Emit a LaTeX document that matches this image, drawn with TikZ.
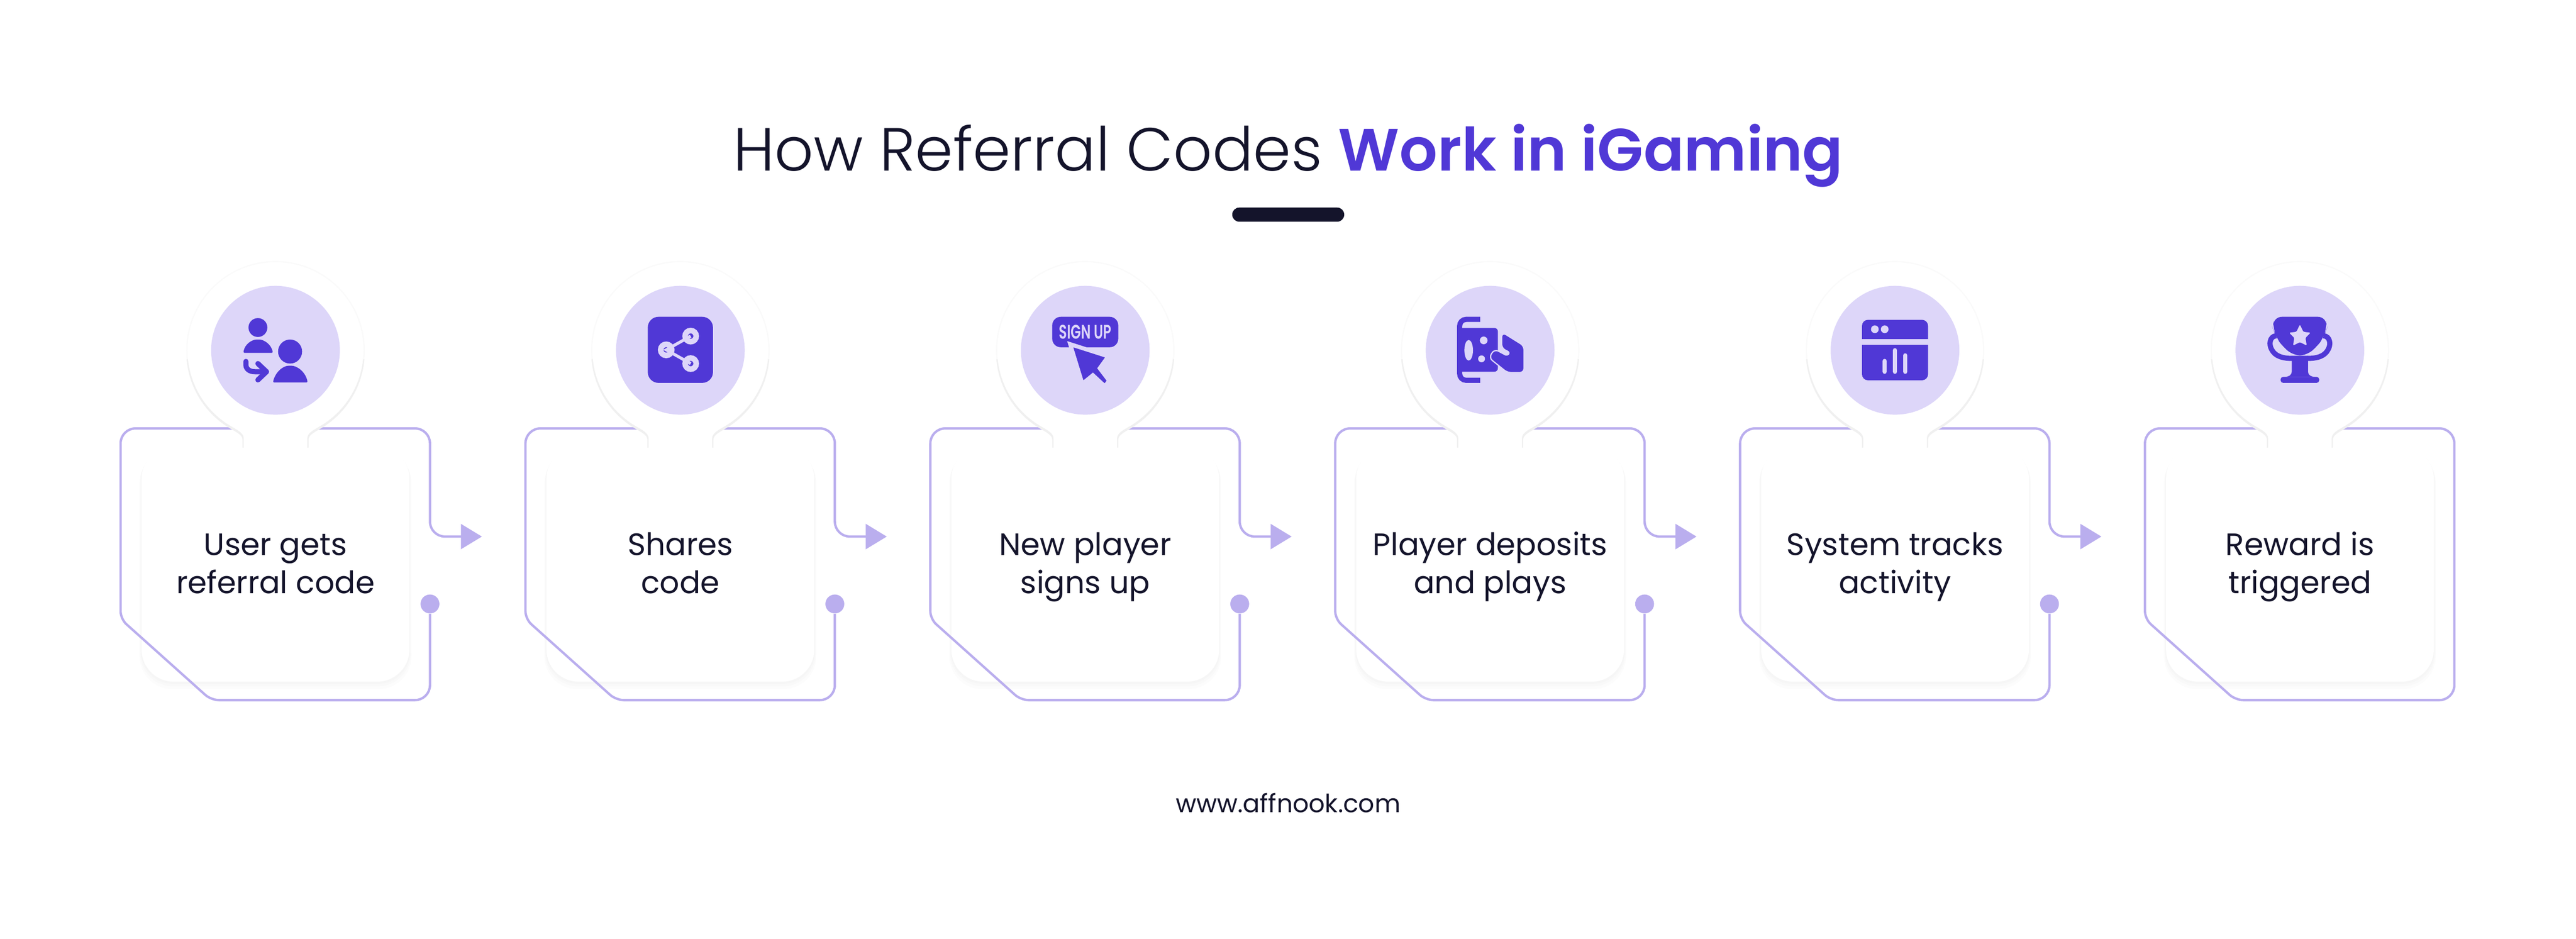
\documentclass[tikz,border=0pt]{standalone}
\usepackage{fontspec}
\setmainfont{Poppins}
\newfontfamily\lightfont{Poppins Light}
\newfontfamily\semifont{Poppins SemiBold}
\newfontfamily\signfont[FakeStretch=.68]{Poppins SemiBold}
\usetikzlibrary{positioning, calc, arrows.meta, shadows}
\definecolor{inkdark}{HTML}{14142B}
\definecolor{violet}{HTML}{5038D6}
\definecolor{lilac}{HTML}{DDD6F9}
\definecolor{flowline}{HTML}{BAAEEE}

\begin{document}
\begin{tikzpicture}[
            node distance=3.195cm,
            softshadow/.style = {drop shadow={opacity=.018, shadow xshift=0cm, shadow yshift=-.04cm, shadow scale=1.005},
                    drop shadow={opacity=.018, shadow xshift=0cm, shadow yshift=-.08cm, shadow scale=1.01},
                    drop shadow={opacity=.018, shadow xshift=0cm, shadow yshift=-.13cm, shadow scale=1.015}},
            cardbox/.style = {align=center, rectangle, rounded corners=.75cm, fill=white, softshadow, text=inkdark,
                    minimum width=6.24cm, minimum height=5.48cm, inner sep=0pt, outer sep=0pt,
                    font=\fontsize{20.5}{25}\selectfont,
                    execute at begin node={\rule[-8pt]{0pt}{54.7pt}}},
            badge/.style = {circle, fill=lilac, minimum size=3cm, inner sep=0pt},
            dotnode/.style = {circle, fill=flowline, minimum size=.44cm, inner sep=0pt},
            flowpath/.style = {draw=flowline, line width=.055cm, rounded corners=.35cm},
            icon/.style = {x=.01cm, y=.01cm, shift={(#1)}},
            iconfill/.style = {fill=violet, draw=none}
        ]
        \useasboundingbox (0,0) rectangle (60.03,21.87);
        \fill[white] (0,0) rectangle (60.03,21.87);

        \node (title) [anchor=base, text=inkdark, font=\fontsize{40}{50}\selectfont] at (30.02,17.89)
            {{\lightfont\fontsize{40.3}{50}\selectfont How Referral Codes} {\semifont\fontsize{39.6}{50}\selectfont\color{violet}Work in iGaming}};
        \node (bar) [fill=inkdark, rounded corners=.165cm, minimum width=2.61cm, minimum height=.33cm, inner sep=0pt] at (30.02,16.87) {};

        \node (card1) [cardbox] at (6.42,8.73) {User gets\\referral code};
        \node (card2) [cardbox, right=of card1] {Shares\\code};
        \node (card3) [cardbox, right=of card2] {New player\\signs up};
        \node (card4) [cardbox, right=of card3] {Player deposits\\and plays};
        \node (card5) [cardbox, right=of card4] {System tracks\\activity};
        \node (card6) [cardbox, right=of card5] {Reward is\\triggered};

        \node (site) [anchor=base, text=inkdark, font=\fontsize{16.7}{20}\selectfont] at (30.02,2.94) {www.affnook.com};

        % frames with an arrow to the next card
        \foreach \i in {1,...,5} {
            \begin{scope}[shift={(card\i.center)}]
                \node (dot\i) [dotnode] at (3.60,-0.93) {};
                \coordinate (tip\i) at (4.81,0.64);
                \draw[flowpath, -{Triangle[length=.49cm, width=.58cm]}] (dot\i.south) -- (3.60,-3.17)
                    [rounded corners=.18cm] -- (-1.50,-3.17) -- (-3.61,-1.28)
                    [rounded corners=.35cm] -- (-3.61,3.16) -- (3.60,3.16) -- (3.60,0.64) -- (tip\i);
            \end{scope}
        }
        \begin{scope}[shift={(card6.center)}]
            \draw[flowpath] (3.60,0) -- (3.60,-3.17)
                [rounded corners=.18cm] -- (-1.50,-3.17) -- (-3.61,-1.28)
                [rounded corners=.35cm] -- (-3.61,3.16) -- (3.60,3.16) -- cycle;
        \end{scope}

        % white pins and badges
        \foreach \i in {1,...,6} {
            \begin{scope}[shift={(card\i.center)}]
                \draw[black!2, line width=.04cm] (0,4.98) circle (2.06);
                \draw[black!6, line width=.06cm, yshift=-.03cm] (-.74,2.74) -- (-.74,2.93) .. controls (-.74,3.05) and (-.88,3.12) .. (-1.025,3.205)
                    arc[start angle=240, end angle=185, radius=2.05];
                \draw[black!6, line width=.06cm, yshift=-.03cm] (.74,2.74) -- (.74,2.93) .. controls (.74,3.05) and (.88,3.12) .. (1.025,3.205)
                    arc[start angle=-60, end angle=-5, radius=2.05];
                \fill[white] (-.74,2.70) -- (-.74,2.93) .. controls (-.74,3.05) and (-.88,3.12) .. (-1.025,3.205)
                    arc[start angle=240, end angle=-60, radius=2.05]
                    .. controls (.88,3.12) and (.74,3.05) .. (.74,2.93) -- (.74,2.70) -- cycle;
                \node (badge\i) [badge] at (0,4.98) {};
            \end{scope}
        }

        % user icon
        \begin{scope}[icon=badge1.center]
            \fill[iconfill] (-41,53) circle (22);
            \fill[iconfill, rounded corners=.03cm] (-75,-6) .. controls (-72,14) and (-55,25) .. (-41,25)
                .. controls (-27,25) and (-10,14) .. (-6,-6) -- cycle;
            \fill[iconfill] (34,-3) circle (28);
            \fill[iconfill, rounded corners=.03cm] (-6,-75) .. controls (0,-50) and (18,-36) .. (34,-36)
                .. controls (50,-36) and (70,-50) .. (75,-75) -- cycle;
            \draw[violet, line width=.12cm, line cap=round, line join=round] (-69,-26) -- (-69,-34)
                .. controls (-69,-44) and (-60,-50) .. (-48,-50) -- (-21,-50);
            \draw[violet, line width=.12cm, line cap=round, line join=round] (-41,-31) -- (-21,-50) -- (-41,-69);
        \end{scope}

        % share icon
        \begin{scope}[icon=badge2.center]
            \fill[iconfill, rounded corners=.25cm] (-76,-76) rectangle (76,78);
            \draw[lilac, line width=.07cm] (24,33) -- (-33,1) -- (24,-31);
            \draw[lilac, line width=.13cm] (24,33) circle (13);
            \draw[lilac, line width=.13cm] (-33,1) circle (13);
            \draw[lilac, line width=.13cm] (24,-31) circle (13);
        \end{scope}

        % sign up icon
        \begin{scope}[icon=badge3.center]
            \fill[iconfill, rounded corners=.2cm] (-77,7) rectangle (77,78);
            \node (signup) [text=lilac, inner sep=0pt, font=\signfont\fontsize{13}{14}\selectfont] at (0,43) {SIGN UP};
            \filldraw[violet, preaction={draw=lilac, line width=.2cm}, line join=round, line width=.01cm]
                (-27,6) -- (45,-17) -- (27,-42) -- (49,-71) -- (45,-76) -- (18,-51) -- (-4,-69) -- cycle;
        \end{scope}

        % deposit icon
        \begin{scope}[icon=badge4.center]
            \draw[violet, line width=.12cm, rounded corners=.15cm] (-23,72) -- (-71,72) -- (-71,-70) -- (-23,-70);
            \fill[iconfill, rounded corners=.08cm] (-77,52) -- (18,52) -- (18,-50) -- (-77,-50) -- cycle;
            \fill[lilac] (-15,23) circle (9);
            \fill[lilac] (-20,-20) circle (8);
            \fill[lilac] (-50,0) ellipse (10 and 24);
            \filldraw[violet, preaction={draw=lilac, line width=.07cm}, rounded corners=.08cm, line width=.01cm]
                (29,39) -- (77,9) -- (77,-50) -- (41,-50) -- (0,-17) -- (11,0) -- (41,-16) -- (49,-4) -- (29,6) -- cycle;
        \end{scope}

        % window icon
        \begin{scope}[icon=badge5.center]
            \fill[iconfill, rounded corners=.14cm] (-77,-70) rectangle (77,71);
            \fill[lilac] (-78,13) rectangle (78,26);
            \fill[lilac] (-47,49) circle (9);
            \fill[lilac] (-24,49) circle (9);
            \draw[lilac, line width=.1cm, line cap=round] (-24,-50) -- (-24,-25);
            \draw[lilac, line width=.1cm, line cap=round] (0,-50) -- (0,0);
            \draw[lilac, line width=.1cm, line cap=round] (24,-50) -- (24,-12);
        \end{scope}

        % trophy icon
        \begin{scope}[icon=badge6.center]
            \draw[violet, line width=.12cm] (-55,34) .. controls (-72,32) and (-72,12) .. (-66,2)
                .. controls (-58,-14) and (-40,-19) .. (-18,-19);
            \draw[violet, line width=.12cm] (55,34) .. controls (72,32) and (72,12) .. (66,2)
                .. controls (58,-14) and (40,-19) .. (18,-19);
            \fill[iconfill, rounded corners=.2cm] (-62,78) -- (62,78) -- (62,48) -- (58,38) .. controls (46,16) and (30,0) .. (19,-12)
                -- (-19,-12) .. controls (-30,0) and (-46,16) .. (-58,38) -- (-62,48) -- cycle;
            \fill[iconfill] (-19,-13) -- (-19,-50) .. controls (-19,-58) and (-26,-62) .. (-36,-62) -- (36,-62)
                .. controls (26,-62) and (19,-58) .. (19,-50) -- (19,-13) -- cycle;
            \fill[iconfill, rounded corners=.06cm] (-45,-76) rectangle (45,-62);
            \fill[lilac, rounded corners=.03cm] (0,60) -- (8,43) -- (25,41) -- (13,29) -- (16,11) -- (0,19) -- (-16,11) -- (-13,29) -- (-25,41) -- (-8,43) -- cycle;
        \end{scope}
    \end{tikzpicture}
\end{document}
